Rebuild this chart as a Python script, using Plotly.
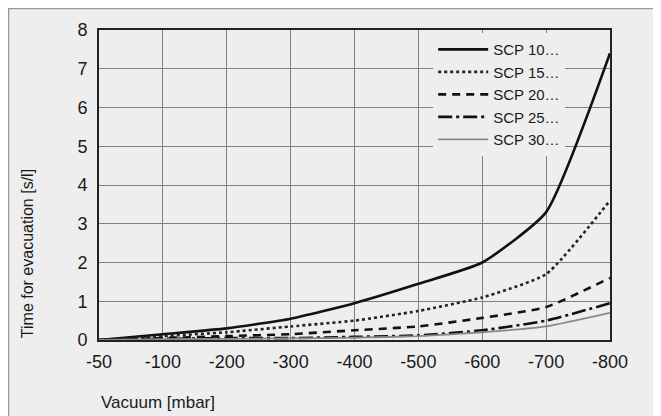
import plotly.graph_objects as go

vacuum = ["-50", "-100", "-200", "-300", "-400", "-500", "-600", "-700", "-800"]
scp10 = [0.0, 0.15, 0.30, 0.55, 0.95, 1.45, 2.0, 3.3, 7.4]
scp15 = [0.0, 0.10, 0.20, 0.35, 0.50, 0.75, 1.1, 1.7, 3.6]
scp20 = [0.0, 0.05, 0.10, 0.15, 0.25, 0.35, 0.57, 0.85, 1.6]
scp25 = [0.0, 0.03, 0.05, 0.05, 0.08, 0.12, 0.25, 0.5, 0.95]
scp30 = [0.0, 0.02, 0.03, 0.04, 0.06, 0.10, 0.20, 0.35, 0.7]
names = ["SCP 10…", "SCP 15…", "SCP 20…", "SCP 25…", "SCP 30…"]
x_title = "Vacuum [mbar]"
y_title = "Time for evacuation [s/l]"

FONT = "Liberation Sans, Arial, sans-serif"
styles = [
    dict(color="#111111", width=2.6, dash="solid"),
    dict(color="#222222", width=2.6, dash="dot"),
    dict(color="#111111", width=2.6, dash="8px,6px"),
    dict(color="#111111", width=2.6, dash="14px,4px,3px,4px"),
    dict(color="#888888", width=1.8, dash="solid"),
]

fig = go.Figure()
for name, ys, st in zip(names, [scp10, scp15, scp20, scp25, scp30], styles):
    fig.add_trace(go.Scatter(x=vacuum, y=ys, mode="lines", name=name,
                             line=dict(shape="spline", smoothing=0.5, **st)))

fig.update_layout(
    width=653, height=408,
    margin=dict(l=91, r=51, t=22, b=76),
    paper_bgcolor="white", plot_bgcolor="#eeeeee",
    font=dict(family=FONT, size=18, color="#1a1a1a"),
    showlegend=True,
    legend=dict(x=0.654, y=0.99, xanchor="left", yanchor="top",
                bgcolor="#eeeeee", borderwidth=0,
                font=dict(family=FONT, size=15, color="#1a1a1a"),
                itemwidth=50),
    xaxis=dict(type="category", range=[0, 8], showgrid=True, automargin=False,
               gridcolor="#808080", gridwidth=1.4,
               showline=True, linecolor="#222222", linewidth=2, mirror=True,
               ticks="", tickfont=dict(size=18), ticklabelstandoff=4),
    yaxis=dict(range=[0, 8], dtick=1, showgrid=True, automargin=False,
               gridcolor="#808080", gridwidth=1.4,
               showline=True, linecolor="#222222", linewidth=2, mirror=True,
               ticks="", tickfont=dict(size=18), zeroline=False, ticklabelstandoff=6),
)
fig.add_annotation(text=x_title, xref="paper", yref="paper", x=0.0, y=-0.2,
                   xanchor="left", yanchor="middle", showarrow=False,
                   font=dict(family=FONT, size=17, color="#1a1a1a"))
fig.add_annotation(text=y_title, xref="paper", yref="paper", x=-0.141, y=0.28,
                   xanchor="center", yanchor="middle", textangle=-90, showarrow=False,
                   font=dict(family=FONT, size=16, color="#1a1a1a"))
# outer gray panel with frame
fig.add_shape(type="rect", xref="paper", yref="paper",
              x0=-0.177, x1=1.088, y0=-0.4, y1=1.069,
              fillcolor="#eeeeee",
              line=dict(color="#999999", width=1.5), layer="below")
fig.write_html("out.html")
